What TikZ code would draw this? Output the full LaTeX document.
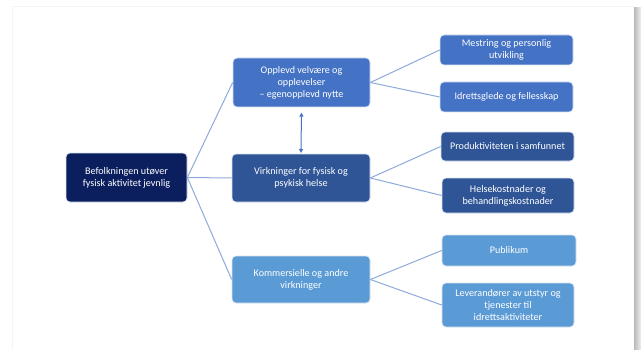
\documentclass[tikz,border=0pt]{standalone}
\usepackage{fontspec}
\setmainfont{Carlito}
\usetikzlibrary{arrows.meta}
\definecolor{navy}{HTML}{0B1F5E}
\definecolor{blueA}{HTML}{4472C4}
\definecolor{blueB}{HTML}{2F5597}
\definecolor{blueC}{HTML}{5B9BD5}
\definecolor{linec}{HTML}{8EAADB}
\begin{document}
\begin{tikzpicture}[x=0.75pt,y=-0.75pt,
  box/.style={rectangle,rounded corners=3pt,draw=white!80!blueA,line width=0.5pt,text=white,align=center,
    font=\fontsize{7.6}{9}\selectfont,inner sep=1pt},
  bA/.style={box,fill=blueA},
  bB/.style={box,fill=blueB},
  bC/.style={box,fill=blueC},
  conn/.style={draw=linec,line width=0.75pt}]
\useasboundingbox (0,0) rectangle (641,349);
\fill[white] (0,0) rectangle (641,349);
\shade[left color=gray!55,right color=gray!12] (634,8) rectangle (641,349);
\draw[gray!8,line width=0.6pt] (12,349) -- (12,6) -- (634,6);
% nodes
\node[box,fill=navy,minimum width=90.75pt,minimum height=36.75pt] (root) at (126.5,177.5) {Befolkningen utøver\\fysisk aktivitet jevnlig};
\node[bA,minimum width=102.75pt,minimum height=36.75pt] (opp) at (301.5,82.5) {Opplevd velvære og\\opplevelser\\– egenopplevd nytte};
\node[bB,minimum width=103.5pt,minimum height=36pt] (virk) at (301,178) {Virkninger for fysisk og\\psykisk helse};
\node[bC,minimum width=103.5pt,minimum height=35.25pt] (komm) at (301,279.5) {Kommersielle og andre\\virkninger};
\node[bA,minimum width=99.75pt,minimum height=22.5pt] (mest) at (506.5,50) {Mestring og personlig\\utvikling};
\node[bA,minimum width=99.75pt,minimum height=22.5pt] (idr) at (506.5,97) {Idrettsglede og fellesskap};
\node[bB,minimum width=99.75pt,minimum height=21.75pt] (prod) at (507.5,146.5) {Produktiviteten i samfunnet};
\node[bB,minimum width=99pt,minimum height=26.25pt] (helse) at (508,195.5) {Helsekostnader og\\behandlingskostnader};
\node[bC,minimum width=100.5pt,minimum height=23.25pt] (pub) at (509,250.5) {Publikum};
\node[bC,minimum width=99pt,minimum height=33pt] (lev) at (508,305) {Leverandører av utstyr og\\tjenester til\\idrettsaktiviteter};
% connectors
\draw[conn] (root.east) -- (opp.west);
\draw[conn] (root.east) -- (virk.west);
\draw[conn] (root.east) -- (komm.west);
\draw[conn] (opp.east) -- (mest.west);
\draw[conn] (opp.east) -- (idr.west);
\draw[conn] (virk.east) -- (prod.west);
\draw[conn] (virk.east) -- (helse.west);
\draw[conn] (komm.east) -- (pub.west);
\draw[conn] (komm.east) -- (lev.west);
\draw[draw=blueA,line width=0.75pt,{Triangle[length=3pt,width=3pt]}-{Triangle[length=3pt,width=3pt]},shorten <=4pt,shorten >=0.5pt] (opp.south) -- (virk.north);
\end{tikzpicture}
\end{document}
